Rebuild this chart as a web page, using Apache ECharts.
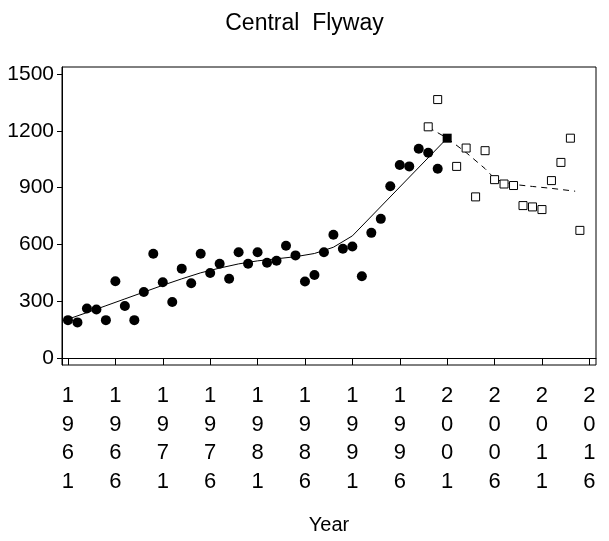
<!DOCTYPE html>
<html>
<head>
    <meta charset="utf-8">
    <title>Central Flyway</title>
    <script src="https://cdn.jsdelivr.net/npm/echarts@6.0.0/dist/echarts.min.js"></script>
    <style>
        body, html { margin: 0; padding: 0; width: 100%; height: 100%; overflow: hidden; background: #fff; }
        #main { width: 609px; height: 541px; }
    </style>
</head>
<body>
    <div id="main"></div>
    <script type="text/javascript">
        // observed counts (filled circles), 1961-2000
        var obsYears = [1961, 1962, 1963, 1964, 1965, 1966, 1967, 1968, 1969, 1970,
                        1971, 1972, 1973, 1974, 1975, 1976, 1977, 1978, 1979, 1980,
                        1981, 1982, 1983, 1984, 1985, 1986, 1987, 1988, 1989, 1990,
                        1991, 1992, 1993, 1994, 1995, 1996, 1997, 1998, 1999, 2000];
        var obsValues = [200, 188, 261, 256, 200, 405, 275, 200, 349, 551,
                         400, 296, 472, 395, 551, 449, 498, 419, 559, 498,
                         559, 503, 514, 593, 542, 404, 438, 559, 651, 577,
                         589, 432, 661, 735, 907, 1019, 1012, 1105, 1084, 1000];

        // later counts (open squares)
        var newYears = [1999, 2000, 2002, 2003, 2004, 2005, 2006, 2007, 2008, 2009, 2010, 2011, 2012, 2013, 2014, 2015];
        var newValues = [1221, 1365, 1012, 1109, 851, 1095, 942, 919, 911, 805, 798, 784, 937, 1033, 1161, 674];

        // join point (filled square)
        var joinYear = [2001];
        var joinValue = [1161];

        // fitted trend, solid
        var fitYears = [1961, 1963, 1965, 1967, 1969, 1971, 1973, 1975, 1977, 1979, 1981, 1983, 1985, 1987, 1989, 1991, 2001];
        var fitValues = [205, 240, 276, 312, 348, 384, 418, 450, 475, 497, 513, 524, 535, 552, 585, 645, 1161];

        // fitted trend, dashed
        var fit2Years = [1999, 2001, 2003, 2005, 2006, 2007, 2008, 2010, 2012, 2014.5];
        var fit2Values = [1219, 1161, 1085, 1000, 948, 928, 917, 906, 896, 881];

        var xTicks = [1961, 1966, 1971, 1976, 1981, 1986, 1991, 1996, 2001, 2006, 2011, 2016];
        var yTicks = [0, 300, 600, 900, 1200, 1500];

        function pairs(xs, ys) {
            return xs.map(function (x, i) { return [x, ys[i]]; });
        }

        var FONT = "'Liberation Sans', Arial, sans-serif";
        var chart = echarts.init(document.getElementById('main'), null, { renderer: 'canvas' });

        chart.setOption({
            animation: false,
            backgroundColor: '#fff',
            title: {
                text: 'Central  Flyway',
                left: 'center',
                top: 7,
                textStyle: { fontFamily: FONT, fontSize: 23, fontWeight: 'normal', color: '#000' }
            },
            grid: {
                left: 62, right: 13, top: 67, bottom: 176,
                show: true, borderColor: '#000', borderWidth: 1,
                containLabel: false
            },
            xAxis: {
                type: 'value',
                min: 1960.37, max: 2016.7,
                name: 'Year',
                nameLocation: 'middle',
                nameGap: 150,
                nameTextStyle: { fontFamily: FONT, fontSize: 20, color: '#000' },
                axisLine: { show: true, lineStyle: { color: '#000', width: 1 } },
                axisTick: { show: true, customValues: xTicks, length: 7, lineStyle: { color: '#000' } },
                axisLabel: {
                    customValues: xTicks,
                    margin: 17,
                    fontFamily: FONT, fontSize: 22, color: '#000',
                    lineHeight: 28.5,
                    formatter: function (v) { return String(v).split('').join('\n'); }
                },
                splitLine: { show: false }
            },
            yAxis: {
                type: 'value',
                min: -37, max: 1537,
                axisLine: { show: true, lineStyle: { color: '#000', width: 1 } },
                axisTick: { show: true, customValues: yTicks, length: 5, lineStyle: { color: '#000' } },
                axisLabel: {
                    customValues: yTicks,
                    margin: 8,
                    fontFamily: FONT, fontSize: 21, color: '#000',
                    formatter: function (v) { return String(v); }
                },
                splitLine: { show: false }
            },
            series: [
                {
                    type: 'line',
                    data: pairs(fitYears, fitValues),
                    showSymbol: false,
                    lineStyle: { color: '#000', width: 1 },
                    z: 2
                },
                {
                    type: 'line',
                    data: pairs(fit2Years, fit2Values),
                    showSymbol: false,
                    lineStyle: { color: '#000', width: 1, type: [6, 5] },
                    z: 2
                },
                {
                    type: 'scatter',
                    data: pairs(obsYears, obsValues),
                    symbol: 'circle',
                    symbolSize: 10,
                    itemStyle: { color: '#000', opacity: 1 },
                    z: 3
                },
                {
                    type: 'scatter',
                    data: pairs(newYears, newValues),
                    symbol: 'rect',
                    symbolSize: 8,
                    itemStyle: { color: '#fff', borderColor: '#000', borderWidth: 1, opacity: 1 },
                    z: 3
                },
                {
                    type: 'scatter',
                    data: pairs(joinYear, joinValue),
                    symbol: 'rect',
                    symbolSize: 9,
                    itemStyle: { color: '#000', opacity: 1 },
                    z: 4
                }
            ]
        });
    </script>
</body>
</html>
